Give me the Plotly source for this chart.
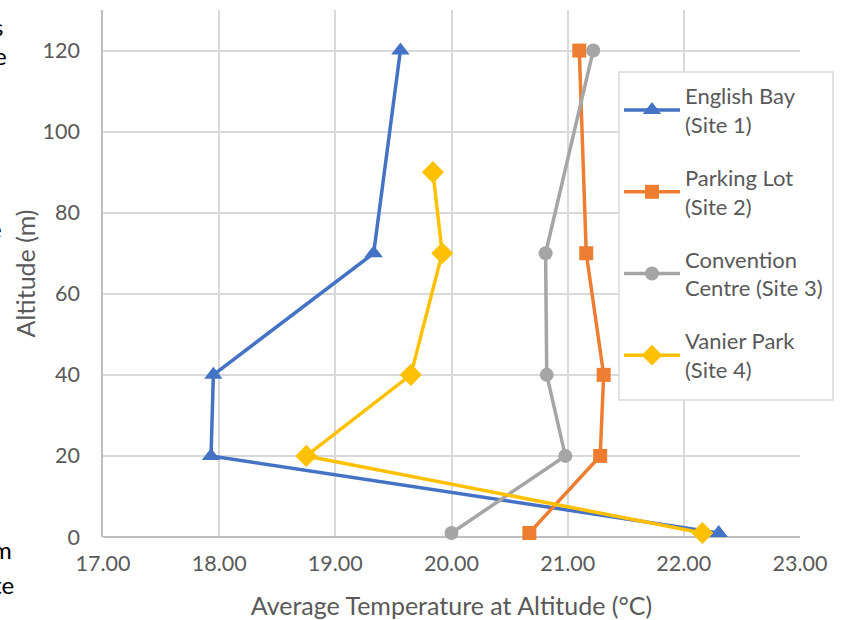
import plotly.graph_objects as go

altitudes_main = [1, 20, 40, 70, 120]
altitudes_vanier = [1, 20, 40, 70, 90]

english_bay = [22.30, 17.93, 17.95, 19.33, 19.56]
parking_lot = [20.67, 21.28, 21.31, 21.16, 21.10]
convention_centre = [20.00, 20.98, 20.82, 20.81, 21.22]
vanier_park = [22.16, 18.75, 19.65, 19.92, 19.84]

series_names = ["English Bay<br>(Site 1)", "Parking Lot<br>(Site 2)",
                "Convention<br>Centre (Site 3)", "Vanier Park<br>(Site 4)"]
series_colors = ["#4472C4", "#ED7D31", "#A5A5A5", "#FFC000"]
series_symbols = ["triangle-up", "square", "circle", "diamond"]
series_sizes = [16, 14, 14, 17]

x_ticks = [17, 18, 19, 20, 21, 22, 23]
x_tick_labels = ["17.00", "18.00", "19.00", "20.00", "21.00", "22.00", "23.00"]
y_ticks = [0, 20, 40, 60, 80, 100, 120]

FONT = "Lato, Carlito, Calibri, sans-serif"
GREY_TEXT = "#595959"

fig = go.Figure()
data = [(english_bay, altitudes_main), (parking_lot, altitudes_main),
        (convention_centre, altitudes_main), (vanier_park, altitudes_vanier)]
for i, (xs, ys) in enumerate(data):
    fig.add_trace(go.Scatter(
        x=xs, y=ys, mode="lines+markers", name=series_names[i],
        legendgroup=str(i),
        line=dict(color=series_colors[i], width=3.5),
        marker=dict(symbol=series_symbols[i], size=series_sizes[i], color=series_colors[i]),
        cliponaxis=False,
    ))

L, R, T, B = 103, 45, 10, 83
W, H = 845, 620
pw, ph = W - L - R, H - T - B

def px_x(px):
    return (px - L) / pw

def px_y(py):
    return (H - B - py) / ph

# legend frame
fig.add_shape(type="rect", xref="paper", yref="paper",
              x0=px_x(619), x1=px_x(833), y0=px_y(400), y1=px_y(72),
              line=dict(color="#D9D9D9", width=1.5), fillcolor="white", layer="above")

fig.update_layout(
    width=W, height=H,
    margin=dict(l=L, r=R, t=T, b=B),
    paper_bgcolor="white", plot_bgcolor="white",
    font=dict(family=FONT, size=21, color=GREY_TEXT),
    showlegend=True,
    legend=dict(
        x=px_x(619), y=px_y(75), xanchor="left", yanchor="top",
        borderwidth=0, bgcolor="rgba(0,0,0,0)",
        font=dict(family=FONT, size=22, color=GREY_TEXT),
        tracegroupgap=21.5, itemwidth=56,
    ),
    xaxis=dict(
        range=[17, 23], tickvals=x_ticks, ticktext=x_tick_labels,
        showgrid=True, gridcolor="#D9D9D9", gridwidth=1.5,
        showline=False, zeroline=False, ticks="", ticklabelstandoff=11,
        tickfont=dict(family=FONT, size=21.5, color=GREY_TEXT),
        title=dict(text="Average Temperature at Altitude (°C)",
                   font=dict(family=FONT, size=25, color=GREY_TEXT), standoff=23),
        automargin=False,
    ),
    yaxis=dict(
        range=[0, 130], tickvals=y_ticks,
        showgrid=True, gridcolor="#D9D9D9", gridwidth=1.5,
        showline=True, linecolor="#BFBFBF", linewidth=1.5,
        zeroline=True, zerolinecolor="#BFBFBF", zerolinewidth=1.5,
        ticks="", ticklabelstandoff=17,
        tickfont=dict(family=FONT, size=21.5, color=GREY_TEXT),
        title=dict(text="Altitude (m)",
                   font=dict(family=FONT, size=25, color=GREY_TEXT), standoff=0),
        automargin=False,
    ),
)

fragments = [("s", 5, 26), ("e", 9, 55), ("e", 4, 228), ("m", 14, 549), ("te", 16, 584)]
for txt, rx, cy in fragments:
    fig.add_annotation(text=txt, xref="paper", yref="paper",
                       x=px_x(rx), y=px_y(cy), xanchor="right", yanchor="middle",
                       showarrow=False,
                       font=dict(family=FONT, size=24, color="#000000"))

fig.write_html("out.html", config={"displayModeBar": False},
               post_script="document.body.style.margin='0';document.body.style.overflow='hidden';")
